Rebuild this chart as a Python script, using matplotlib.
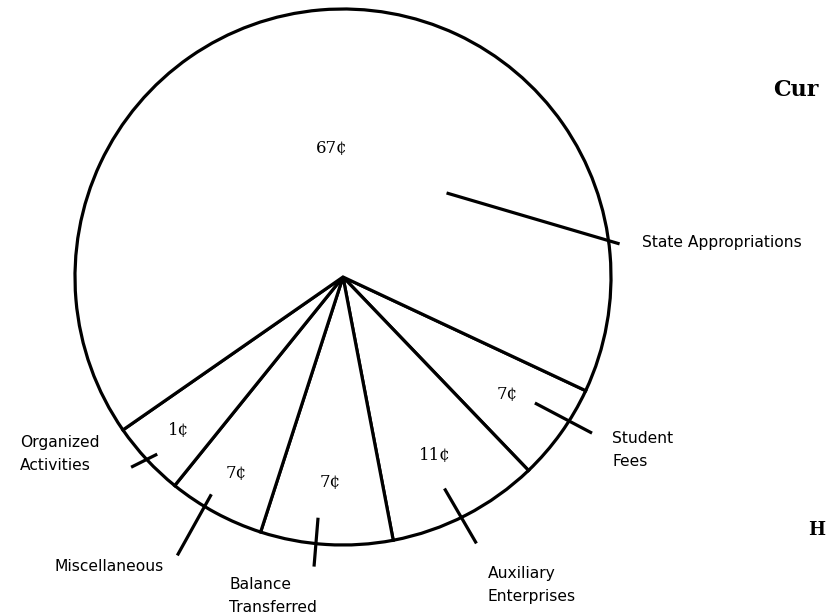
import numpy as np
import matplotlib
matplotlib.use("Agg")
import matplotlib.pyplot as plt

# Sources of current funds, cents per dollar (labels printed inside the wedges)
sources = ["Student\nFees", "Auxiliary\nEnterprises", "Balance\nTransferred",
           "Miscellaneous", "Organized\nActivities", "State Appropriations"]
cents = ["7¢", "11¢", "7¢", "7¢", "1¢", "67¢"]
# wedge sizes as drawn in the original (degrees, the drawing is only roughly to scale)
drawn_deg = [21.1, 33.0, 28.7, 21.0, 16.3, 239.9]

START = -25.1
LW = 2.3

# label placement (pie radius = 1)
cent_r = [0.755, 0.75, 0.77, 0.835, 0.84, 0.48]
name_xy = [(1.004, -0.646), (0.541, -1.149), (-0.425, -1.19),
           (-1.075, -1.082), (-1.205, -0.66), (1.116, 0.127)]
# leader ticks: angle where they cross the rim, direction, length inside / outside
tick_at = [-32.5, -63.8, -95.8, -121.1, -137.1, 7.8]
tick_dir = [-27.8, -59.8, -94.7, -119.1, -153.4, -16.4]
tick_in = [0.144, 0.125, 0.097, 0.052, 0.044, 0.63]
tick_out = [0.097, 0.112, 0.086, 0.209, 0.065, 0.043]

W, H = 829, 616
CX, CY, R = 343, 277, 268

fig = plt.figure(figsize=(W / 100, H / 100), dpi=100)
ax = fig.add_axes([0, 0, 1, 1])

wedges, _ = ax.pie(drawn_deg, startangle=START, counterclock=False,
                   radius=1, center=(0, 0),
                   wedgeprops=dict(facecolor="white", edgecolor="black",
                                   linewidth=LW))

for w, txt, r in zip(wedges, cents, cent_r):
    mid = np.deg2rad((w.theta1 + w.theta2) / 2)
    ax.text(r * np.cos(mid), r * np.sin(mid), txt, ha="center", va="center",
            fontsize=12, family="DejaVu Serif")

for a, d, ti, to in zip(tick_at, tick_dir, tick_in, tick_out):
    a, d = np.deg2rad(a), np.deg2rad(d)
    cx, cy = np.cos(a), np.sin(a)
    dx, dy = np.cos(d), np.sin(d)
    ax.plot([cx - dx * ti, cx + dx * to], [cy - dy * ti, cy + dy * to],
            color="black", lw=LW, solid_capstyle="butt")

for name, (x, y) in zip(sources, name_xy):
    ax.text(x, y, name, ha="left", va="center", fontsize=11.2,
            linespacing=1.65, family="DejaVu Sans")

ax.set_xlim(-CX / R, (W - CX) / R)
ax.set_ylim(-(H - CY) / R, CY / R)
ax.set_aspect("auto")
ax.axis("off")

fig.text(773 / W, 1 - 90 / H, "Cur", ha="left", va="center",
         fontsize=16, fontweight="bold", family="DejaVu Serif")
fig.text(808 / W, 1 - 530 / H, "H", ha="left", va="center",
         fontsize=13, fontweight="bold", family="DejaVu Serif")

fig.savefig("out.png", dpi=100, facecolor="white")
